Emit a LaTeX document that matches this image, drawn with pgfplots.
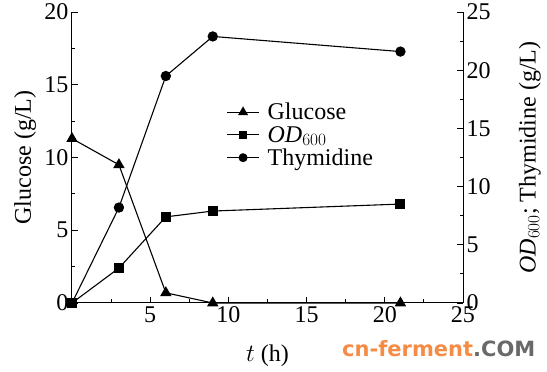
\documentclass[border=0pt]{standalone}
\usepackage{pgfplots}
\pgfplotsset{compat=1.18}
\usepackage{fontspec}
\setmainfont{Liberation Serif}
\newfontfamily\wmfont{DejaVu Sans}
\definecolor{wmorange}{RGB}{245,140,70}
\definecolor{wmgray}{RGB}{105,105,105}
\begin{document}
\begin{tikzpicture}[font=\fontsize{24}{28}\selectfont]
\pgfplotsset{
  common/.style={
    scale only axis, width=391pt, height=291pt,
    at={(0,0)}, anchor=south west,
    xmin=0, xmax=25,
    tick align=inside,
    major tick length=6pt, minor tick length=3.5pt,
    every tick/.style={line width=0.9pt, black},
    axis line style={line width=1pt},
    tick label style={font=\rmfamily\fontsize{24}{28}\selectfont},
    label style={font=\fontsize{24}{28}\selectfont},
  }
}
\begin{axis}[common,
  axis x line*=bottom, axis y line*=left,
  ymin=0, ymax=20,
  xtick={5,10,15,20,25}, xticklabels={5,10,15,20,25},
  minor xtick={2.5,7.5,12.5,17.5,22.5},
  ytick={0,5,10,15,20}, yticklabels={0,5,10,15,20},
  minor ytick={2.5,7.5,12.5,17.5},
  xlabel={$t$ (h)},
  ylabel={Glucose (g/L)},
  xlabel style={at={(axis description cs:0.5,-0.18)}, anchor=center},
  ylabel style={at={(axis description cs:-0.12,0.5)}, anchor=center},
  clip=false,
]
\addplot[black, line width=1.1pt, mark=triangle*, mark size=5.5pt, mark options={solid}]
  coordinates {(0,11.3) (3,9.5) (6,0.7) (9,0) (21,0)};
\end{axis}
\begin{axis}[common,
  axis x line=none, axis y line*=right,
  ymin=0, ymax=25,
  ytick={0,5,10,15,20,25}, yticklabels={0,5,10,15,20,25},
  minor ytick={2.5,7.5,12.5,17.5,22.5},
  ylabel={$\mathit{OD}_{600}$; Thymidine (g/L)},
  ylabel style={at={(axis description cs:1.171,0.5)}, anchor=center},
  legend style={draw=none, fill=none, at={(0.387,0.698)}, anchor=north west,
    font=\fontsize{24}{28}\selectfont, row sep=3pt,
    nodes={inner sep=1pt},
    /tikz/every odd column/.append style={column sep=7pt}},
  legend cell align=left,
  legend image code/.code={
    \draw[#1] (0pt,0pt) -- (32pt,0pt);
    \draw[#1, only marks, mark options={scale=0.85}] plot coordinates {(16pt,0pt)};
  },
  clip=false,
]
\addlegendimage{black, line width=1.1pt, mark=triangle*, mark size=5.5pt}
\addlegendentry{Glucose}
\addplot[black, line width=1.1pt, mark=square*, mark size=4.4pt]
  coordinates {(0,0) (3,3.0) (6,7.4) (9,7.9) (21,8.5)};
\addlegendentry{$\mathit{OD}_{600}$}
\addplot[black, line width=1.1pt, mark=*, mark size=4.6pt]
  coordinates {(0,0) (3,8.2) (6,19.5) (9,22.9) (21,21.6)};
\addlegendentry{Thymidine}
\end{axis}
\node[anchor=base west, inner sep=0pt] at (270pt,-54pt)
  {\wmfont\bfseries\fontsize{21}{24}\selectfont\textcolor{wmorange}{cn-ferment}\textcolor{wmgray}{.COM}};
\pgfresetboundingbox
\path (-72pt,-69pt) rectangle (475pt,303pt);
\end{tikzpicture}
\end{document}
